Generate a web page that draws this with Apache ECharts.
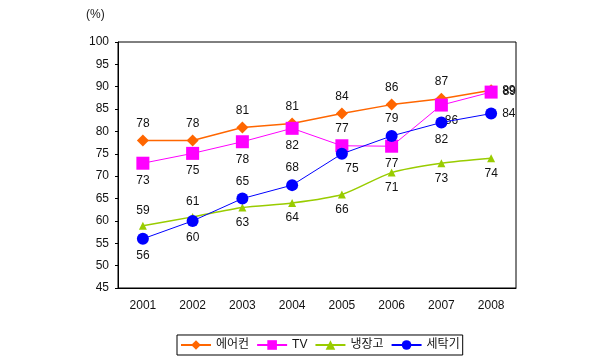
<!DOCTYPE html>
<html><head><meta charset="utf-8">
<script src="https://cdn.jsdelivr.net/npm/echarts@6/dist/echarts.min.js"></script>
<style>html,body{margin:0;padding:0;background:#fff}#c{width:600px;height:363px}</style>
</head><body><div id="c"></div>
<script>
const categories = ['2001','2002','2003','2004','2005','2006','2007','2008'];
const seriesNames = ['에어컨','TV','냉장고','세탁기'];
const airconValues = [78, 78, 80.9, 81.8, 84, 86, 87.3, 89.2];
const tvValues = [72.9, 75.1, 77.7, 80.7, 76.8, 76.7, 85.9, 88.8];
const fridgeValues = [58.9, 60.9, 63, 64, 65.9, 70.8, 72.9, 74];
const washerValues = [56, 60, 65, 68, 75, 79, 82, 84];
const airconLabels = ['78','78','81','81','84','86','87','89'];
const tvLabels = ['73','75','78','82','77','77','86','89'];
const fridgeLabels = ['59','61','63','64','66','71','73','74'];
const washerLabels = ['56','60','65','68','75','79','82','84'];
const yTicks = [45,50,55,60,65,70,75,80,85,90,95,100];

const FONT = '"Liberation Sans", "Noto Sans CJK KR", sans-serif';
// label placements (layout only)
const place = {
  aircon: ['top','top','top','top','top','top','top','right'],
  tv: ['bottom','bottom','bottom','bottom','top','bottom','br','right'],
  fridge: ['top','top','bottom','bottom','bottom','bottom','bottom','bottom'],
  washer: ['bottom','bottom','top','top','br','top','bottom','right']
};
function mk(values, labels, pos) {
  return values.map((v, i) => {
    const p = pos[i];
    const lab = {formatter: labels[i]};
    if (p === 'br') { lab.position = 'bottom'; lab.offset = [10, -2]; }
    else lab.position = p;
    return {value: v, label: lab};
  });
}
const labelBase = {show: true, color: '#111', fontSize: 12, fontFamily: FONT, distance: 5};
const chart = echarts.init(document.getElementById('c'));
chart.setOption({
  animation: false,
  textStyle: {fontFamily: FONT},
  grid: {left: 118, right: 84, top: 42, bottom: 75, show: true, borderColor: '#000', borderWidth: 1, backgroundColor: 'transparent'},
  graphic: [{type: 'text', left: 86, top: 9, style: {text: '(%)', fontSize: 12, fill: '#222', fontFamily: FONT}}],
  legend: {
    bottom: 8, left: 177, data: seriesNames,
    itemWidth: 30, itemHeight: 12, itemGap: 7,
    padding: [4, 3, 4, 3],
    borderColor: '#000', borderWidth: 1, borderRadius: 0,
    textStyle: {fontSize: 12, color: '#111', fontFamily: FONT}
  },
  xAxis: {
    type: 'category', data: categories, boundaryGap: true,
    axisLine: {lineStyle: {color: '#000', width: 1}},
    axisTick: {inside: true, length: 3, lineStyle: {color: '#000'}},
    axisLabel: {color: '#111', fontSize: 12, margin: 12, fontFamily: FONT}
  },
  yAxis: {
    type: 'value', min: yTicks[0], max: yTicks[yTicks.length-1], interval: 5,
    axisLine: {show: true, lineStyle: {color: '#000'}},
    axisTick: {show: true, length: 3, lineStyle: {color: '#000'}},
    splitLine: {show: false},
    axisLabel: {color: '#111', fontSize: 12, margin: 9, fontFamily: FONT}
  },
  series: [
    {name: seriesNames[0], type: 'line', data: mk(airconValues, airconLabels, place.aircon),
     symbol: 'diamond', symbolSize: 12, color: '#ff6600', lineStyle: {width: 1.5, color: '#ff6600'},
     label: labelBase, z: 3},
    {name: seriesNames[1], type: 'line', data: mk(tvValues, tvLabels, place.tv),
     symbol: 'rect', symbolSize: 13, color: '#ff00ff', lineStyle: {width: 1, color: '#ff00ff'},
     label: labelBase, z: 4},
    {name: seriesNames[2], type: 'line', data: mk(fridgeValues, fridgeLabels, place.fridge),
     symbol: 'triangle', symbolSize: 8, color: '#99cc00', smooth: 0.25, lineStyle: {width: 1.5, color: '#99cc00'},
     label: labelBase, z: 2},
    {name: seriesNames[3], type: 'line', data: mk(washerValues, washerLabels, place.washer),
     symbol: 'circle', symbolSize: 12, color: '#0000ff', lineStyle: {width: 1, color: '#0000ff'},
     label: labelBase, z: 5}
  ]
});
</script></body></html>
